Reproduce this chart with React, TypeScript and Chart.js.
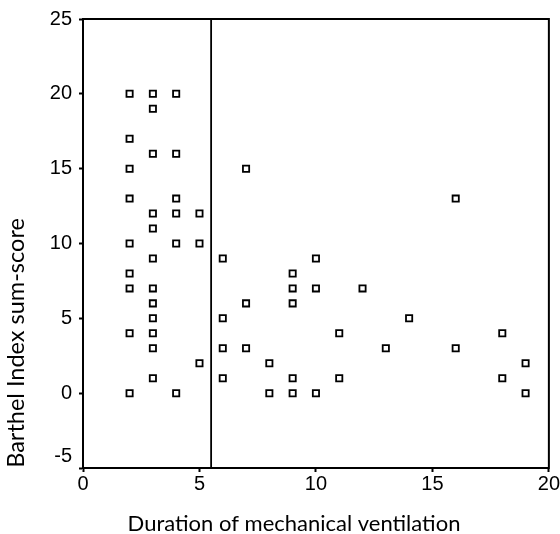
import React, { useEffect, useRef } from "react";
import { Chart, registerables } from "chart.js";

Chart.register(...registerables);

// Duration of mechanical ventilation (x) and Barthel Index sum-score (y)
const durationValues = [
  2, 2, 2, 2, 2, 2, 2, 2, 2,
  3, 3, 3, 3, 3, 3, 3, 3, 3, 3, 3, 3,
  4, 4, 4, 4, 4, 4,
  5, 5, 5,
  6, 6, 6, 6,
  7, 7, 7,
  8, 8,
  9, 9, 9, 9, 9,
  10, 10, 10,
  11, 11,
  12,
  13,
  14,
  16, 16,
  18, 18,
  19, 19,
];
const barthelValues = [
  20, 17, 15, 13, 10, 8, 7, 4, 0,
  20, 19, 16, 12, 11, 9, 7, 6, 5, 4, 3, 1,
  20, 16, 13, 12, 10, 0,
  12, 10, 2,
  9, 5, 3, 1,
  15, 6, 3,
  2, 0,
  8, 7, 6, 1, 0,
  9, 7, 0,
  4, 1,
  7,
  3,
  5,
  13, 3,
  4, 1,
  2, 0,
];
const referenceLineX = 5.5;
const xTicksRange = [0, 20];
const yTicksRange = [-5, 25];
const tickStep = 5;
const xTitle = "Duration of mechanical ventilation";
const yTitle = "Barthel Index sum-score";

export default function App() {
  const canvasRef = useRef<HTMLCanvasElement | null>(null);

  useEffect(() => {
    if (!canvasRef.current) return;
    const points = durationValues.map((x, i) => ({ x, y: barthelValues[i] }));
    const linePts = [
      { x: referenceLineX, y: yTicksRange[0] },
      { x: referenceLineX, y: yTicksRange[1] },
    ];

    const framePlugin = {
      id: "frameAndTitles",
      afterDraw(chart: any) {
        const { ctx, chartArea } = chart;
        ctx.save();
        ctx.strokeStyle = "#000";
        ctx.lineWidth = 2;
        ctx.strokeRect(
          chartArea.left,
          chartArea.top,
          chartArea.right - chartArea.left,
          chartArea.bottom - chartArea.top
        );
        ctx.fillStyle = "#000";
        ctx.textAlign = "center";
        ctx.textBaseline = "alphabetic";
        ctx.font = "22px Lato";
        ctx.fillText(xTitle, 294, 531);
        ctx.font = "23.5px Lato";
        ctx.translate(24, 343);
        ctx.rotate(-Math.PI / 2);
        ctx.fillText(yTitle, 0, 0);
        ctx.restore();
      },
    };

    const chart = new Chart(canvasRef.current, {
      type: "scatter",
      data: {
        datasets: [
          {
            data: points,
            pointStyle: "rect",
            pointRadius: 4.4,
            pointBorderWidth: 1.8,
            pointBorderColor: "#000",
            pointBackgroundColor: "#fff",
            borderColor: "#000",
            backgroundColor: "#fff",
          },
          {
            type: "line",
            data: linePts,
            borderColor: "#000",
            borderWidth: 1.8,
            pointRadius: 0,
            showLine: true,
            fill: false,
          } as any,
        ],
      },
      options: {
        animation: false,
        responsive: false,
        maintainAspectRatio: false,
        layout: { padding: { top: 17, right: 11, left: 0, bottom: 0 } },
        plugins: {
          legend: { display: false },
          tooltip: { enabled: false },
        },
        scales: {
          x: {
            type: "linear",
            min: xTicksRange[0],
            max: xTicksRange[1],
            ticks: {
              stepSize: tickStep,
              color: "#000",
              font: { family: "Liberation Sans", size: 20 },
              padding: 0,
            },
            grid: {
              drawOnChartArea: false,
              tickLength: 4,
              tickWidth: 2,
              tickColor: "#000",
            },
            border: { display: true, color: "#000", width: 2 },
            afterFit(scale: any) {
              scale.height = 66;
            },
          },
          y: {
            type: "linear",
            min: yTicksRange[0],
            max: yTicksRange[1],
            ticks: {
              stepSize: tickStep,
              color: "#000",
              font: { family: "Liberation Sans", size: 20 },
              padding: 7,
              callback: (v: any) => (v === yTicksRange[0] ? [String(v), ""] : String(v)),
            },
            grid: {
              drawOnChartArea: false,
              tickLength: 4,
              tickWidth: 2,
              tickColor: "#000",
            },
            border: { display: true, color: "#000", width: 2 },
            afterFit(scale: any) {
              scale.width = 83;
            },
          },
        },
      },
      plugins: [framePlugin],
    });
    return () => chart.destroy();
  }, []);

  return (
    <div style={{ position: "fixed", left: 0, top: 0, width: 560, height: 534, background: "#fff" }}>
      <canvas ref={canvasRef} width={560} height={534} />
    </div>
  );
}
